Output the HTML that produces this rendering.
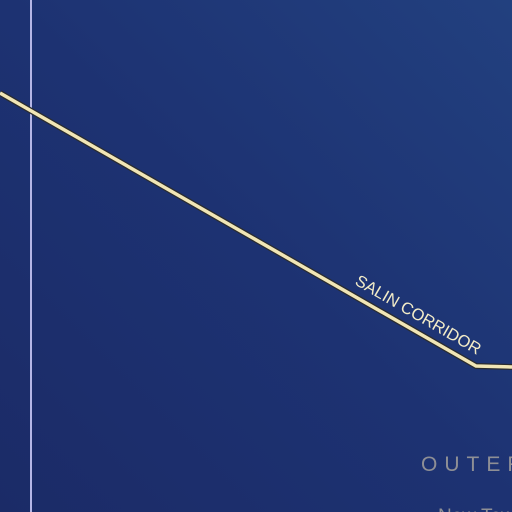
<!DOCTYPE html>
<html><head><style>
html,body{margin:0;padding:0;overflow:hidden}
body{width:512px;height:512px;background:linear-gradient(225deg,#22407f 0%,#1d3272 50%,#1b2b67 100%);font-family:"Liberation Sans",sans-serif}
svg{display:block;overflow:hidden}
</style></head><body>
<svg width="512" height="512">
<line x1="31" y1="0" x2="31" y2="512" stroke="#b5b6e6" stroke-width="2"/>
<polyline points="0,93 476,366 512,367" fill="none" stroke="#2a2c30" stroke-width="6"/>
<polyline points="0,93 476,366 512,367" fill="none" stroke="#f1e6b6" stroke-width="3.5"/>
<text x="0" y="0" transform="translate(354,284) rotate(30)" fill="#f3ecc8" font-size="16.5">SALIN CORRIDOR</text>
<text x="421" y="471" fill="#8e8f95" font-size="21" letter-spacing="7">OUTER</text>
<text x="438" y="522" fill="#8e8f95" font-size="19">New Town</text>
</svg>
</body></html>
